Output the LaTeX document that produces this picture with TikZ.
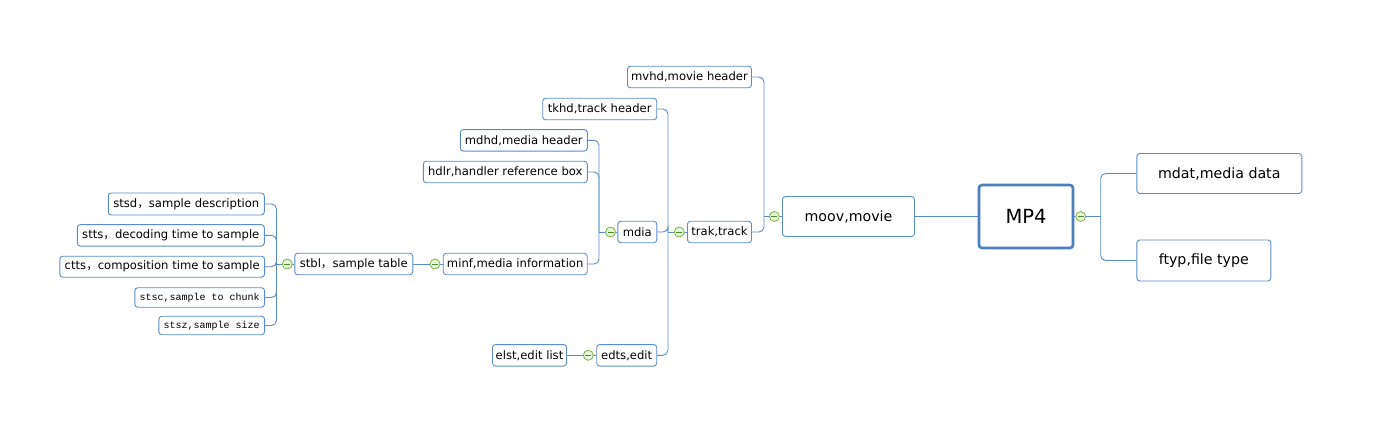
\documentclass[tikz,border=0pt]{standalone}
\usepackage{fontspec}
\setmainfont{DejaVu Sans}
\newfontfamily\monof{Liberation Mono}
\newfontfamily\cjk{Noto Sans CJK SC}
\definecolor{lineblue}{HTML}{5A8BCB}
\definecolor{rootblue}{HTML}{4C7FC2}
\definecolor{foldgreen}{HTML}{7DB249}
\definecolor{foldfill}{HTML}{E6F4DA}
\definecolor{minusgreen}{HTML}{4E8A2A}
\tikzset{
  box/.style={draw=lineblue, rounded corners=3pt, line width=0.9pt, fill=white,
    inner sep=0pt, text=black, font=\fontsize{11.6}{13}\selectfont},
  bigbox/.style={box, font=\fontsize{14.2}{16}\selectfont},
  rootbox/.style={box, draw=rootblue, line width=2.6pt, font=\fontsize{19.5}{22}\selectfont},
  monobox/.style={box, font=\monof\fontsize{10}{12}\selectfont},
  conn/.style={draw=lineblue, line width=0.9pt, rounded corners=5pt},
  fold/.style={circle, draw=foldgreen, fill=foldfill, line width=0.8pt, inner sep=0pt,
    minimum size=10pt,
    path picture={\draw[minusgreen, line width=0.9pt]
      ([xshift=-3pt]path picture bounding box.center) --
      ([xshift=3pt]path picture bounding box.center);}}
}
\begin{document}
\begin{tikzpicture}[x=1pt, y=-1pt]
\useasboundingbox (0,0) rectangle (1382,447);
% nodes
\node[rootbox, minimum width=94, minimum height=63] (mp4) at (1026,216.5) {MP4};
\node[bigbox, minimum width=165, minimum height=40] (mdat) at (1219.3,173.5) {mdat,media data};
\node[bigbox, minimum width=134, minimum height=41] (ftyp) at (1203.8,260.5) {ftyp,file type};
\node[bigbox, minimum width=132, minimum height=40] (moov) at (848.5,216.5) {moov,movie};
\node[box, minimum width=124, minimum height=21.5] (mvhd) at (689.5,77) {mvhd,movie header};
\node[box, minimum width=64, minimum height=21.5] (trak) at (719.5,232) {trak,track};
\node[box, minimum width=114, minimum height=21.5] (tkhd) at (599.7,109) {tkhd,track header};
\node[box, minimum width=39, minimum height=21.5] (mdia) at (637.3,232) {mdia};
\node[box, minimum width=60, minimum height=21.5] (edts) at (626.7,355.3) {edts,edit};
\node[box, minimum width=74, minimum height=21.5] (elst) at (529.5,355.3) {elst,edit list};
\node[box, minimum width=127, minimum height=21.5] (mdhd) at (523.8,140.3) {mdhd,media header};
\node[box, minimum width=164, minimum height=21.5] (hdlr) at (505.3,172) {hdlr,handler reference box};
\node[box, minimum width=144, minimum height=21.5] (minf) at (515.2,264) {minf,media information};
\node[box, minimum width=118, minimum height=21.5] (stbl) at (353.8,264) {stbl{\cjk ，}sample table};
\node[box, minimum width=156, minimum height=22] (stsd) at (186.3,204) {stsd{\cjk ，}sample description};
\node[box, minimum width=187, minimum height=21.5] (stts) at (170.8,235.3) {stts{\cjk ，}decoding time to sample};
\node[box, minimum width=204.7, minimum height=21] (ctts) at (162.2,266.7) {ctts{\cjk ，}composition time to sample};
\node[monobox, minimum width=129.7, minimum height=19.5] (stsc) at (199.7,297.5) {stsc,sample to chunk};
\node[monobox, minimum width=105.7, minimum height=18.5] (stsz) at (211.7,325.5) {stsz,sample size};
% trunk coordinates
\coordinate (tmp4) at (1100.7,216.5);
\coordinate (tmoov) at (764,216.5);
\coordinate (ttrak) at (668,232);
\coordinate (tmdia) at (599,232);
\coordinate (tstbl) at (276.5,264);
% connectors
\draw[conn] (mp4.west) -- (moov.east);
\draw[conn] (mp4.east) -- (tmp4);
\draw[conn] (tmp4) |- (mdat.west);
\draw[conn] (tmp4) |- (ftyp.west);
\draw[conn] (moov.west) -- (tmoov);
\draw[conn] (tmoov) |- (mvhd.east);
\draw[conn] (tmoov) |- (trak.east);
\draw[conn] (trak.west) -- (ttrak);
\draw[conn] (ttrak) |- (tkhd.east);
\draw[conn] (ttrak) |- (mdia.east);
\draw[conn] (ttrak) |- (edts.east);
\draw[conn] (mdia.west) -- (tmdia);
\draw[conn] (tmdia) |- (mdhd.east);
\draw[conn] (tmdia) |- (hdlr.east);
\draw[conn] (tmdia) |- (minf.east);
\draw[conn] (minf.west) -- (stbl.east);
\draw[conn] (edts.west) -- (elst.east);
\draw[conn] (stbl.west) -- (tstbl);
\draw[conn] (tstbl) |- (stsd.east);
\draw[conn] (tstbl) |- (stts.east);
\draw[conn] (tstbl) |- (ctts.east);
\draw[conn] (tstbl) |- (stsc.east);
\draw[conn] (tstbl) |- (stsz.east);
% fold markers
\node[fold] (fmp4) at (1080.7,216.5) {};
\node[fold] (fmoov) at (774.3,216.5) {};
\node[fold] (ftrak) at (679.3,232) {};
\node[fold] (fmdia) at (610.5,232) {};
\node[fold] (fminf) at (435,264) {};
\node[fold] (fstbl) at (287.3,264) {};
\node[fold] (fedts) at (588.3,355.3) {};
\end{tikzpicture}
\end{document}
